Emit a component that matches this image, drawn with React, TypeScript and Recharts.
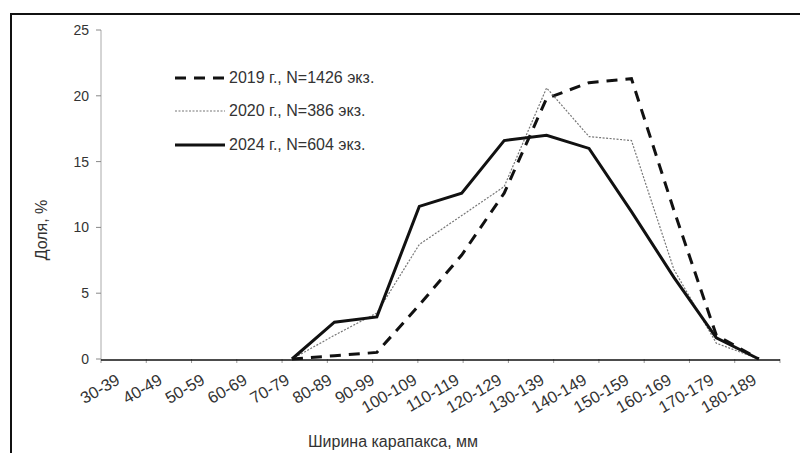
import { LineChart, Line, XAxis, YAxis } from "recharts"

const categories = [
  "30-39", "40-49", "50-59", "60-69", "70-79", "80-89", "90-99", "100-109",
  "110-119", "120-129", "130-139", "140-149", "150-159", "160-169", "170-179", "180-189",
]
const share2019 = [null, null, null, null, 0, 0.25, 0.5, 4.1, 7.9, 12.6, 19.8, 21.0, 21.3, 11.3, 1.8, 0]
const share2020 = [null, null, null, null, 0, 1.8, 3.5, 8.7, 10.9, 13.1, 20.6, 16.9, 16.6, 6.8, 1.2, 0]
const share2024 = [null, null, null, null, 0, 2.8, 3.2, 11.6, 12.6, 16.6, 17.0, 16.0, 11.2, 6.2, 1.6, 0]
const yTicks = [0, 5, 10, 15, 20, 25]
// category borders, where the small tick marks sit
const borderTicks = categories.map((_, i) => i).concat(categories.length)

const seriesNames = {
  s2019: "2019 г., N=1426 экз.",
  s2020: "2020 г., N=386 экз.",
  s2024: "2024 г., N=604 экз.",
}

const data = categories.map((cat, i) => ({
  cat,
  s2019: share2019[i],
  s2020: share2020[i],
  s2024: share2024[i],
}))

const FONT = "'Liberation Sans', Arial, sans-serif"

const legendRows = [
  { key: "s2019", stroke: "#111", width: 3, dash: "11 8" },
  { key: "s2020", stroke: "#777", width: 1.2, dash: "2 1.5" },
  { key: "s2024", stroke: "#111", width: 3, dash: undefined },
]

function LegendBox() {
  return (
    <div style={{ position: "absolute", left: 175, top: 61 }}>
      {legendRows.map((r) => (
        <div key={r.key} style={{ display: "flex", alignItems: "center", height: 33.5 }}>
          <svg width={54} height={10}>
            <line x1={0} y1={5} x2={50} y2={5} stroke={r.stroke} strokeWidth={r.width} strokeDasharray={r.dash} />
          </svg>
          <span style={{ fontSize: 16, color: "#333", whiteSpace: "nowrap" }}>
            {seriesNames[r.key as keyof typeof seriesNames]}
          </span>
        </div>
      ))}
    </div>
  )
}

export default function App() {
  return (
    <div
      style={{
        position: "relative",
        width: 808,
        height: 461,
        margin: -8,
        overflow: "hidden",
        background: "#fff",
        fontFamily: FONT,
      }}
    >
      <div
        style={{
          position: "absolute",
          left: 10,
          top: 13,
          width: 830,
          height: 480,
          border: "2px solid #111",
        }}
      />
      <div style={{ position: "absolute", left: 0, top: 0 }}>
        <LineChart width={808} height={461} data={data} margin={{ top: 30, right: 28, bottom: 42, left: 41 }}>
          <XAxis
            xAxisId="a"
            type="number"
            domain={[0, categories.length]}
            ticks={borderTicks}
            allowDataOverflow
            height={1}
            tickFormatter={() => ""}
            axisLine={false}
            tickSize={4}
            tickLine={{ stroke: "#999" }}
          />
          <XAxis
            xAxisId="b"
            dataKey="cat"
            scale="band"
            interval={0}
            height={59}
            angle={-30}
            textAnchor="end"
            tickLine={false}
            tickMargin={7}
            axisLine={{ stroke: "#111", strokeWidth: 1.5 }}
            tick={{ fontSize: 16.5, fill: "#333", fontFamily: FONT, dx: -7 }}
          />
          <YAxis
            width={60}
            domain={[0, 25]}
            ticks={yTicks}
            tickSize={5}
            tickMargin={7}
            axisLine={{ stroke: "#aaa" }}
            tickLine={{ stroke: "#888" }}
            tick={{ fontSize: 14, fill: "#333", fontFamily: FONT }}
          />
          <Line
            xAxisId="b"
            dataKey="s2019"
            name={seriesNames.s2019}
            stroke="#111"
            strokeWidth={3}
            strokeDasharray="11 8"
            dot={false}
            type="linear"
            isAnimationActive={false}
          />
          <Line
            xAxisId="b"
            dataKey="s2020"
            name={seriesNames.s2020}
            stroke="#777"
            strokeWidth={1.2}
            strokeDasharray="2 1.5"
            dot={false}
            type="linear"
            isAnimationActive={false}
          />
          <Line
            xAxisId="b"
            dataKey="s2024"
            name={seriesNames.s2024}
            stroke="#111"
            strokeWidth={3}
            dot={false}
            type="linear"
            isAnimationActive={false}
          />
        </LineChart>
      </div>
      <LegendBox />
      <div
        style={{
          position: "absolute",
          left: 393,
          top: 442,
          transform: "translate(-50%, -50%)",
          fontSize: 16,
          color: "#333",
          whiteSpace: "nowrap",
        }}
      >
        Ширина карапакса, мм
      </div>
      <div
        style={{
          position: "absolute",
          left: 42,
          top: 230,
          transform: "translate(-50%, -50%) rotate(-90deg)",
          fontSize: 16,
          color: "#333",
          whiteSpace: "nowrap",
        }}
      >
        Доля, %
      </div>
    </div>
  )
}
